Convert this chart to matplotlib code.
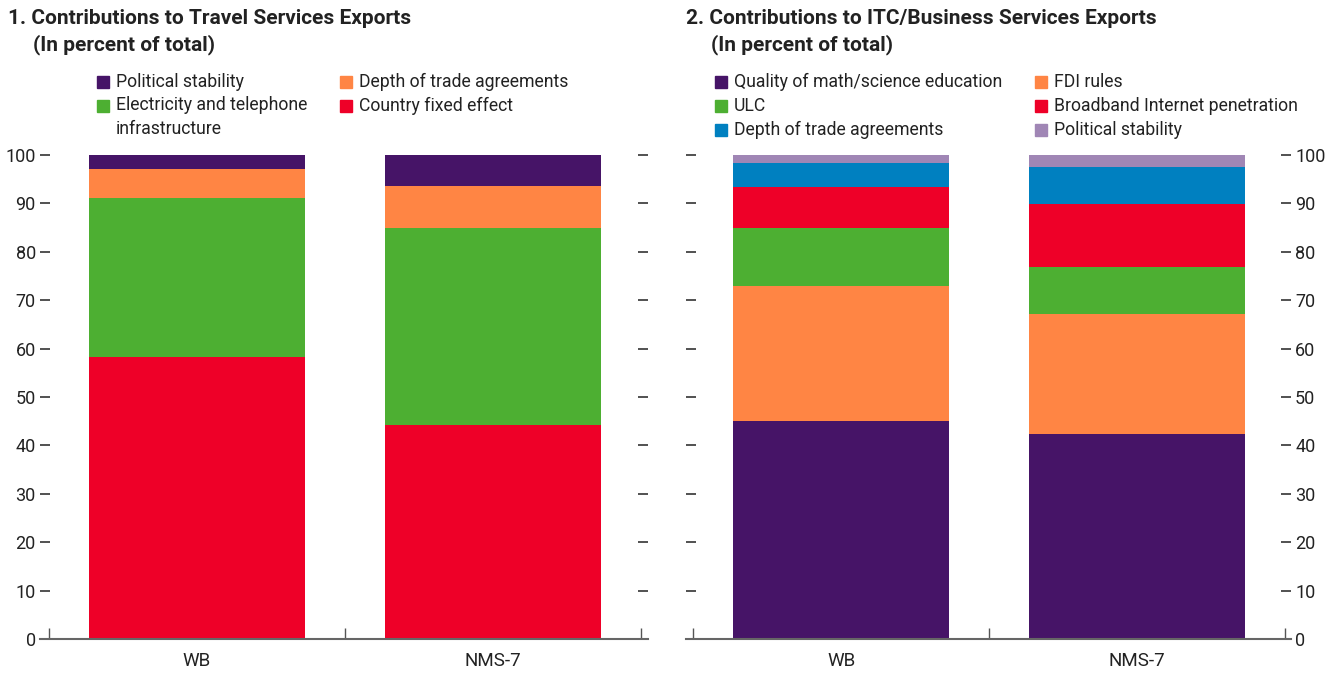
import matplotlib.pyplot as plt
import numpy as np
from matplotlib.patches import Rectangle

plt.rcParams['font.family'] = ['Liberation Sans Narrow', 'Roboto', 'DejaVu Sans']

cats = ['WB', 'NMS-7']

# panel 1: shares (bottom to top)
travel_labels = ['Country fixed effect', 'Electricity and telephone\ninfrastructure',
                 'Depth of trade agreements', 'Political stability']
travel_colors = ['#EE0028', '#4DAF32', '#FF8544', '#461467']
travel_vals = [[58.3, 32.8, 6.0, 2.9],
               [44.2, 40.7, 8.7, 6.4]]

# panel 2
itc_labels = ['Quality of math/science education', 'FDI rules', 'ULC',
              'Broadband Internet penetration', 'Depth of trade agreements',
              'Political stability']
itc_colors = ['#461467', '#FF8544', '#4DAF32', '#EE0028', '#0080C0', '#A086B5']
itc_vals = [[45.0, 27.9, 12.0, 8.5, 4.9, 1.7],
            [42.4, 24.7, 9.8, 13.0, 7.6, 2.5]]

W, H = 1338, 673
fig = plt.figure(figsize=(W/100, H/100), dpi=100)
ax1 = fig.add_axes([40/W, 1-639/H, (648-40)/W, (639-155)/H])
ax2 = fig.add_axes([686/W, 1-639/H, (1291-686)/W, (639-155)/H])

def stack(ax, vals, colors, xlim):
    x = np.arange(len(cats))
    v = np.array(vals)
    bottom = np.zeros(len(cats))
    for j in range(v.shape[1]):
        ax.bar(x, v[:, j], 0.73, bottom=bottom, color=colors[j], linewidth=0)
        bottom += v[:, j]
    ax.set_xlim(*xlim)
    ax.set_ylim(0, 100)
    ax.set_xticks(x)
    ax.set_xticklabels(cats, fontsize=13.5, color='#222222')
    ax.tick_params(axis='x', length=0, pad=9)
    ax.set_xticks([-0.5, 0.5, 1.5], minor=True)
    ax.tick_params(axis='x', which='minor', direction='in', length=8, color='#555555', width=1)
    ax.set_yticks(range(0, 101, 10))
    ax.tick_params(axis='y', direction='in', length=7, width=1.2, color='#333333',
                   labelsize=13, labelcolor='#222222', pad=3, left=True, right=True)
    for s in ['top', 'left', 'right']:
        ax.spines[s].set_visible(False)
    ax.spines['bottom'].set_color('#666666')
    ax.spines['bottom'].set_linewidth(1.5)

stack(ax1, travel_vals, travel_colors, (-0.53, 1.524))
stack(ax2, itc_vals, itc_colors, (-0.524, 1.52))
ax1.tick_params(axis='y', labelleft=True, labelright=False)
ax2.tick_params(axis='y', labelleft=False, labelright=True)

# titles
tkw = dict(fontsize=15, fontweight='bold', va='center', color='#222222')
fig.text(8/W, 1-18/H, '1. Contributions to Travel Services Exports', **tkw)
fig.text(33/W, 1-45/H, '(In percent of total)', **tkw)
fig.text(686/W, 1-18/H, '2. Contributions to ITC/Business Services Exports', **tkw)
fig.text(711/W, 1-45/H, '(In percent of total)', **tkw)

# legends (manual grid)
def legend(items, sq_x, rows):
    for (lab, col), sx, ry in zip(items, sq_x, rows):
        fig.patches.append(Rectangle((sx/W, 1-(ry+6)/H), 12/W, 12/H,
                                     transform=fig.transFigure, color=col, figure=fig))
        if '\n' in lab:
            fig.text((sx+19)/W, 1-(ry-10)/H, lab, fontsize=12.7, va='top',
                     color='#222222', linespacing=1.45)
        else:
            fig.text((sx+19)/W, 1-ry/H, lab, fontsize=12.7, va='center', color='#222222')

t_items = [(travel_labels[3], travel_colors[3]), (travel_labels[2], travel_colors[2]),
           (travel_labels[1], travel_colors[1]), (travel_labels[0], travel_colors[0])]
legend(t_items, [97, 340, 97, 340], [82, 82, 106, 106])

i_items = [(itc_labels[0], itc_colors[0]), (itc_labels[1], itc_colors[1]),
           (itc_labels[2], itc_colors[2]), (itc_labels[3], itc_colors[3]),
           (itc_labels[4], itc_colors[4]), (itc_labels[5], itc_colors[5])]
legend(i_items, [715, 1035, 715, 1035, 715, 1035], [82, 82, 106, 106, 130, 130])

fig.savefig('out.png', dpi=100)
